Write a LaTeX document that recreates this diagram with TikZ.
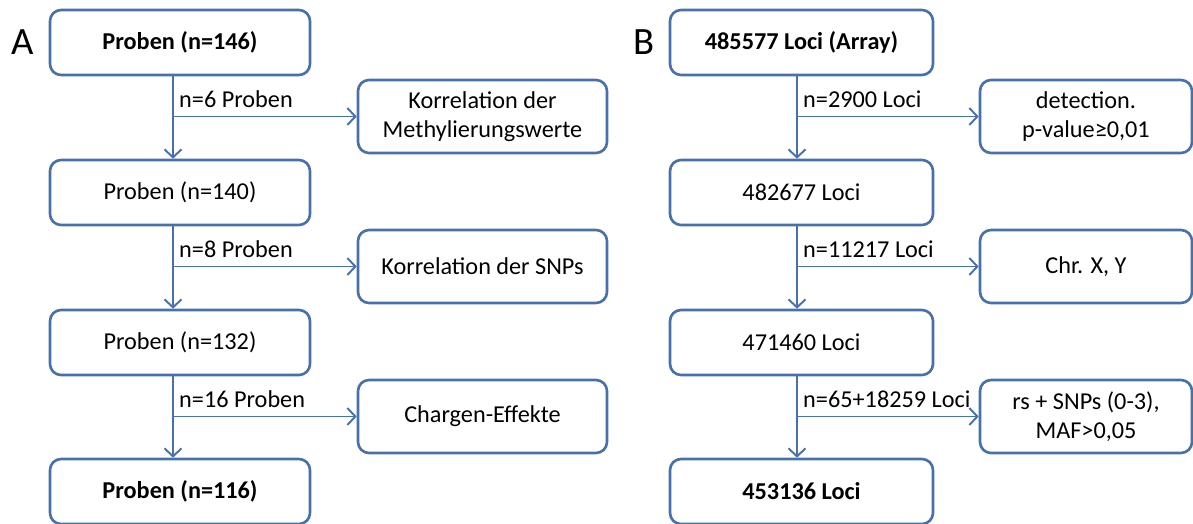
\documentclass[tikz,border=0pt]{standalone}
\usepackage{fontspec}
\setmainfont{Carlito}
\usetikzlibrary{arrows.meta}
\definecolor{flowblue}{RGB}{72,112,170}
\tikzset{
  box/.style={draw=flowblue, line width=1.5pt, rounded corners=0.22cm,
    minimum width=5.2cm, minimum height=1.3cm, align=center, fill=white},
  sidebox/.style={box, minimum width=4.98cm, minimum height=1.46cm},
  lab/.style={pos=0, anchor=south west, inner sep=0pt, xshift=3pt, yshift=4.5pt},
  panel/.style={font=\fontsize{22}{26}\selectfont},
  every edge/.style={draw=flowblue, line width=1.1pt},
  >={Straight Barb[length=1.6mm,width=3.4mm]}
}
\begin{document}
\begin{tikzpicture}[font=\fontsize{13.8}{16.3}\selectfont]
    \useasboundingbox (0,0) rectangle (23.86,-10.48);

    % A: Proben
    \node[panel] (PA) at (0.46,-0.84) {A};
    \node[box] (A1) at (3.6,-0.85) {\textbf{Proben (n=146)}};
    \node[box] (A2) at (3.6,-3.85) {Proben (n=140)};
    \node[box] (A3) at (3.6,-6.85) {Proben (n=132)};
    \node[box] (A4) at (3.6,-9.83) {\textbf{Proben (n=116)}};
    \node[sidebox] (SA1) at (9.65,-2.33) {Korrelation der\\Methylierungswerte};
    \node[sidebox] (SA2) at (9.65,-5.33) {Korrelation der SNPs};
    \node[sidebox] (SA3) at (9.65,-8.33) {Chargen-Effekte};

    \coordinate (TA1) at ([xshift=-0.14cm]A1.south);
    \coordinate (TA2) at ([xshift=-0.14cm]A2.south);
    \coordinate (TA3) at ([xshift=-0.14cm]A3.south);
    \path [->] (TA1) edge (TA1 |- A2.north);
    \path [->] (TA2) edge (TA2 |- A3.north);
    \path [->] (TA3) edge (TA3 |- A4.north);
    \path [->] (TA1 |- SA1.west) edge node[lab] {n=6 Proben} (SA1.west);
    \path [->] (TA2 |- SA2.west) edge node[lab] {n=8 Proben} (SA2.west);
    \path [->] (TA3 |- SA3.west) edge node[lab] {n=16 Proben} (SA3.west);

    % B: Loci
    \node[panel] (PB) at (12.88,-0.84) {B};
    \node[box, minimum width=5.26cm] (B1) at (16.03,-0.85) {\textbf{485577 Loci (Array)}};
    \node[box, minimum width=5.26cm] (B2) at (16.03,-3.85) {482677 Loci};
    \node[box, minimum width=5.26cm] (B3) at (16.03,-6.85) {471460 Loci};
    \node[box, minimum width=5.26cm] (B4) at (16.03,-9.83) {\textbf{453136 Loci}};
    \node[sidebox, minimum width=4.24cm] (SB1) at (21.72,-2.33) {detection.\\p-value≥0,01};
    \node[sidebox, minimum width=4.24cm] (SB2) at (21.72,-5.33) {Chr. X, Y};
    \node[sidebox, minimum width=4.24cm] (SB3) at (21.72,-8.33) {rs + SNPs (0-3),\\MAF>0,05};

    \coordinate (TB1) at ([xshift=-0.09cm]B1.south);
    \coordinate (TB2) at ([xshift=-0.09cm]B2.south);
    \coordinate (TB3) at ([xshift=-0.09cm]B3.south);
    \path [->] (TB1) edge (TB1 |- B2.north);
    \path [->] (TB2) edge (TB2 |- B3.north);
    \path [->] (TB3) edge (TB3 |- B4.north);
    \path [->] (TB1 |- SB1.west) edge node[lab] {n=2900 Loci} (SB1.west);
    \path [->] (TB2 |- SB2.west) edge node[lab] {n=11217 Loci} (SB2.west);
    \path [->] (TB3 |- SB3.west) edge node[lab] {n=65+18259 Loci} (SB3.west);
\end{tikzpicture}
\end{document}
